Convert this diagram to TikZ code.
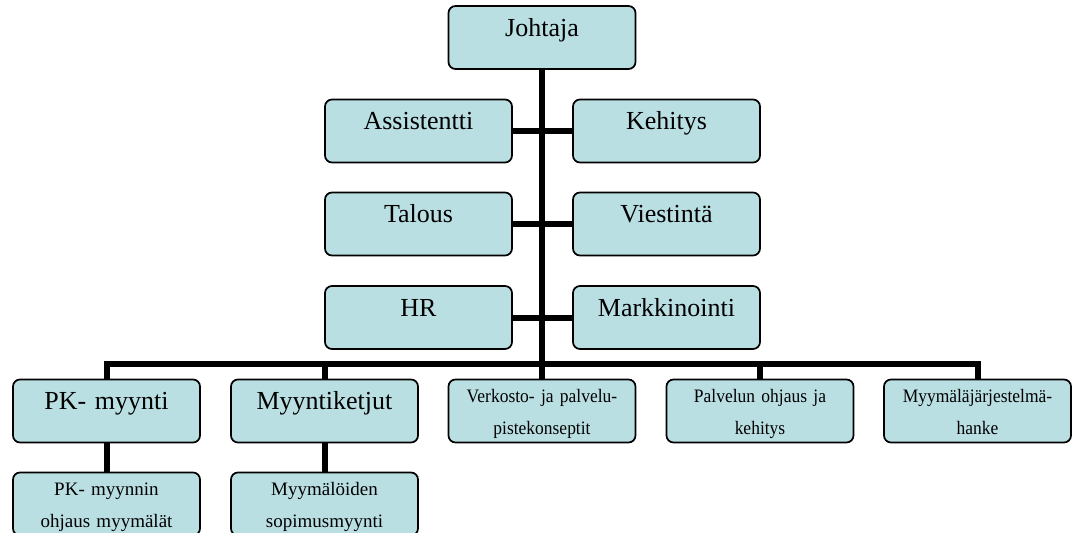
\documentclass[tikz,border=0pt]{standalone}
\usepackage{fontspec}
\setmainfont{Liberation Serif}
\newfontfamily\narrowserif[FakeStretch=0.92]{Liberation Serif}
\definecolor{boxfill}{RGB}{186,223,227}
\tikzset{
  orgbox/.style={draw=black, line width=1.7pt, fill=boxfill, rounded corners=7pt,
    inner sep=0pt, text width=187pt, align=center},
  bigbox/.style={orgbox, font=\fontsize{26}{30}\selectfont, text height=30pt, text depth=33pt},
  smallbox/.style={orgbox, font=\fontsize{19}{32}\selectfont, text height=23pt, text depth=40pt},
  narrowbox/.style={smallbox, font=\narrowserif\fontsize{19}{32}\selectfont},
  link/.style={line width=6pt, draw=black}
}
\begin{document}
\begin{tikzpicture}[x=1pt, y=-1pt]
\useasboundingbox (0,0) rectangle (1072,533);

% management level
\node[bigbox] (johtaja) at (542,37.5) {Johtaja};
\node[bigbox] (assist)  at (418.5,131) {Assistentti};
\node[bigbox] (kehitys) at (666.5,131) {Kehitys};
\node[bigbox] (talous)  at (418.5,224) {Talous};
\node[bigbox] (viest)   at (666.5,224) {Viestintä};
\node[bigbox] (hr)      at (418.5,317.5) {HR};
\node[bigbox] (markk)   at (666.5,317.5) {Markkinointi};

% units
\node[bigbox]    (pk)       at (106.5,411) {PK- myynti};
\node[bigbox]    (ketjut)   at (324.5,411) {Myyntiketjut};
\node[narrowbox] (verkosto) at (542,411) {Verkosto- ja palvelu-\\pistekonseptit};
\node[narrowbox] (palvelu)  at (760,411) {Palvelun ohjaus ja\\kehitys};
\node[narrowbox] (myymala)  at (977.5,411) {Myymäläjärjestelmä-\\hanke};

% sub-units
\node[smallbox] (pksub)     at (106.5,504) {PK- myynnin\\ohjaus myymälät};
\node[smallbox] (ketjutsub) at (324.5,504) {Myymälöiden\\sopimusmyynti};

% height of the horizontal bus above the units
\coordinate (bus) at (542,364);

% trunk and side links
\draw[link] (johtaja.south) -- (verkosto.north);
\draw[link] (assist.east) -- (kehitys.west);
\draw[link] (talous.east) -- (viest.west);
\draw[link] (hr.east) -- (markk.west);

% bus to the units
\draw[link] (pk.north) -- (pk.north |- bus) -- (myymala.north |- bus) -- (myymala.north);
\draw[link] (ketjut.north) -- (ketjut.north |- bus);
\draw[link] (palvelu.north) -- (palvelu.north |- bus);

% units to sub-units
\draw[link] (pk.south) -- (pksub.north);
\draw[link] (ketjut.south) -- (ketjutsub.north);
\end{tikzpicture}
\end{document}
